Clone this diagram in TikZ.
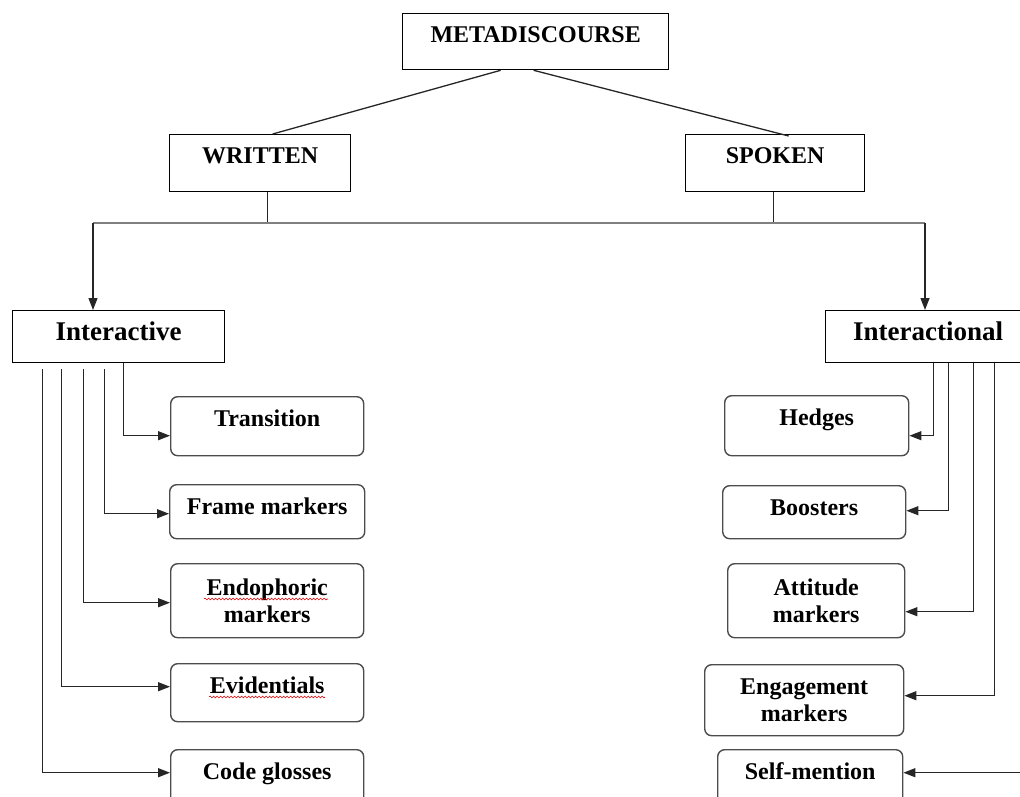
\documentclass[tikz,border=0pt]{standalone}
\usepackage{fontspec}
\setmainfont{Liberation Serif}
\usetikzlibrary{arrows.meta,decorations.pathmorphing}
\newcommand{\mdfont}{\fontsize{24}{27}\selectfont\bfseries}
\newcommand{\mdbigfont}{\fontsize{27}{30}\selectfont\bfseries}

\begin{document}
\begin{tikzpicture}[x=1pt, y=-1pt,
  topbox/.style={draw=black, line width=1.3pt, inner sep=0pt, anchor=north west, font=\mdfont, text height=29pt},
  term/.style={draw=black!70, line width=1.4pt, rounded corners=7pt, inner sep=0pt, anchor=north west, font=\mdfont},
  oneline/.style={term, text height=30pt, text depth=#1},
  twoline/.style={term, align=center, minimum height=#1},
  link/.style={draw=black!85, line width=1.3pt},
  arr/.style={link, -{Triangle[length=12pt, width=9pt]}},
  squiggle/.style={draw=red!85!black, line width=0.6pt, decorate, decoration={snake, amplitude=0.9pt, segment length=3.5pt}}]
  \useasboundingbox (0,0) rectangle (1020,796);
  \clip (0,0) rectangle (1020,796);
  \node[topbox, minimum width=266pt, text depth=27pt] (meta) at (402,13) {METADISCOURSE};
  \node[topbox, minimum width=181pt, text depth=28pt] (written) at (169,134) {WRITTEN};
  \node[topbox, minimum width=179pt, text depth=28pt] (spoken) at (685,134) {SPOKEN};
  \node[topbox, minimum width=212pt, text height=30pt, text depth=22pt, font=\mdbigfont] (interactive) at (12,310) {Interactive};
  \node[topbox, minimum width=205pt, text height=30pt, text depth=22pt, font=\mdbigfont] (interactional) at (825,310) {Interactional};
  \node[oneline=29pt, minimum width=193pt] (transition) at (170,396) {Transition};
  \node[oneline=24pt, minimum width=195pt] (frame) at (169,484) {Frame markers};
  \node[twoline=74pt, minimum width=193pt] (endophoric) at (170,563) {Endophoric\\markers};
  \node[oneline=28pt, minimum width=193pt] (evidentials) at (170,663) {Evidentials};
  \node[oneline=30pt, minimum width=193pt] (codegloss) at (170,749) {Code glosses};
  \node[oneline=30pt, minimum width=184pt] (hedges) at (724,395) {Hedges};
  \node[oneline=23pt, minimum width=183pt] (boosters) at (722,485) {Boosters};
  \node[twoline=74pt, minimum width=177pt] (attitude) at (727,563) {Attitude\\markers};
  \node[twoline=71pt, minimum width=199pt] (engagement) at (704,664) {Engagement\\markers};
  \node[oneline=30pt, minimum width=185pt] (selfmention) at (717,749) {Self-mention};
  \draw[link] ([xshift=-35pt]meta.south) -- ([xshift=12.5pt]written.north);
  \draw[link] ([xshift=-2pt]meta.south) -- ([xshift=13.5pt, yshift=-2pt]spoken.north);
  \coordinate (busL) at (93,223);
  \coordinate (busR) at (925,223);
  \draw[link] ([xshift=7.5pt]written.south) -- ([xshift=7.5pt]written.south |- busL);
  \draw[link] ([xshift=-1.5pt]spoken.south) -- ([xshift=-1.5pt]spoken.south |- busL);
  \draw[draw=black!50, line width=2.2pt] (busL) -- (busR);
  \draw[arr] (busL) -- (busL |- interactive.north);
  \draw[arr] (busR) -- (busR |- interactional.north);
  \draw[arr] ([xshift=5pt]interactive.south) |- ([yshift=-9.5pt]transition.west);
  \foreach \dx/\dy/\target in {-14/-2/frame, -35/-2/endophoric, -57/6/evidentials, -76/7/codegloss}
    \draw[arr] ([xshift=\dx pt, yshift=-6pt]interactive.south) |- ([yshift=\dy pt]\target.west);
  \foreach \dx/\dy/\target in {5.5/-10/hedges, 20.5/1.5/boosters, 45.5/-11/attitude, 66.5/4.5/engagement, 98/7/selfmention}
    \draw[arr] ([xshift=\dx pt]interactional.south) |- ([yshift=\dy pt]\target.east);
  \draw[squiggle] ([xshift=34pt, yshift=-36pt]endophoric.north west) -- ++(124,0);
  \draw[squiggle] ([xshift=39pt, yshift=-34pt]evidentials.north west) -- ++(116,0);
\end{tikzpicture}
\end{document}
